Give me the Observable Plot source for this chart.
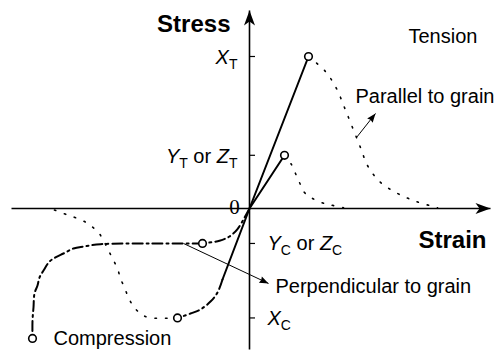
<!DOCTYPE html>
<html>
<head>
<meta charset="utf-8">
<script src="https://cdn.jsdelivr.net/npm/d3@7"></script>
<script src="https://cdn.jsdelivr.net/npm/@observablehq/plot@0.6"></script>
<style>
  html, body { margin: 0; padding: 0; background: #fff; overflow: hidden; }
</style>
</head>
<body>
<div id="chart"></div>
<script>
// Schematic stress–strain behaviour of wood (strain: arbitrary units, stress: % of X_T)

// Strength levels marked on the stress axis
const stressTicks = [100, 35, -23, -72];
const stressTickLabels = ["X_T", "Y_T or Z_T", "Y_C or Z_C", "X_C"];

// Tension parallel to grain: linear up to failure, then softening
const tensionParallelElastic = [[0, 0], [5.9, 100]];
const tensionParallelSoftening = [
  [5.9, 100], [7.6, 90.1], [8.7, 78.9], [9.5, 66.4], [10.3, 53.3], [11.1, 40.1],
  [11.8, 28.3], [13.0, 17.8], [14.8, 9.9], [16.7, 4.6], [18.8, 0.5]
];

// Tension perpendicular to grain
const tensionPerpElastic = [[0, 0], [3.5, 35]];
const tensionPerpSoftening = [
  [3.5, 35], [4.2, 28.9], [4.6, 23.0], [5.0, 17.1], [5.5, 10.5], [6.2, 7.0],
  [7.2, 3.9], [8.2, 2.2], [9.4, 0.5]
];

// Compression parallel to grain: elastic, nonlinear hardening, post-peak softening
const compParallelElastic = [[0, 0], [-2.7, -46.7]];
const compParallelNonlinear = [
  [-2.7, -46.7], [-3.2, -55.3], [-3.9, -61.2], [-4.9, -66.4], [-5.9, -69.1], [-7.2, -72]
];
const compParallelSoftening = [
  [-7.2, -72], [-10.1, -71.7], [-10.9, -69.1], [-11.6, -64.5], [-12.1, -58.6],
  [-12.5, -52.0], [-12.9, -46.1], [-13.2, -39.5], [-13.7, -32.9], [-14.1, -27.6],
  [-14.6, -21.1], [-15.1, -15.8], [-15.9, -11.2], [-16.7, -7.9], [-17.7, -5.3],
  [-18.6, -3.3], [-19.6, -0.7]
];

// Compression perpendicular to grain: yield, plateau, densification
const compPerpYield = [
  [0, 0], [-0.5, -6], [-1.2, -13.5], [-2.0, -18.4], [-3.0, -21.2], [-4.7, -23]
];
const compPerpPlateau = [
  [-4.7, -23], [-9.9, -23], [-14.9, -23.5], [-16.6, -25.0], [-17.6, -26.3],
  [-18.6, -29.6], [-19.4, -32.2], [-20.0, -34.9], [-20.6, -40.8], [-21.0, -45.4],
  [-21.2, -50.7], [-21.5, -55.9], [-21.6, -65.1], [-21.7, -73.7], [-21.7, -85.5]
];

// Failure / end points shown as open circles
const markedPoints = [
  tensionParallelElastic.at(-1),
  tensionPerpElastic.at(-1),
  compPerpYield.at(-1),
  compParallelNonlinear.at(-1),
  compPerpPlateau.at(-1)
];

const sans = "'Liberation Sans', Arial, Helvetica, sans-serif";
const dotted = "1.5,9";
const dashDot = "10,4,2,4";

const chart = Plot.plot({
  width: 496,
  height: 354,
  margin: 0,
  x: {domain: [-24.9, 24.7], axis: null},
  y: {domain: [-96.05, 136.84], axis: null},
  style: {fontFamily: sans, background: "white", color: "black"},
  marks: [
    // axes
    Plot.link([0], {x1: -23.8, x2: 24.1, y1: 0, y2: 0, stroke: "black", strokeWidth: 1.6, ariaDescription: "axis"}),
    Plot.link([0], {x1: 0, x2: 0, y1: -92.8, y2: 130.3, stroke: "black", strokeWidth: 1.6, ariaDescription: "axis"}),
    Plot.ruleY(stressTicks, {x1: 0, x2: 0.6, stroke: "black", strokeWidth: 1.2}),

    // tension
    Plot.line(tensionParallelElastic, {stroke: "black", strokeWidth: 2}),
    Plot.line(tensionParallelSoftening, {curve: "catmull-rom", stroke: "black", strokeWidth: 1.6, strokeDasharray: dotted}),
    Plot.line(tensionPerpElastic, {stroke: "black", strokeWidth: 2}),
    Plot.line(tensionPerpSoftening, {curve: "catmull-rom", stroke: "black", strokeWidth: 1.6, strokeDasharray: dotted}),

    // compression
    Plot.line(compParallelElastic, {stroke: "black", strokeWidth: 2}),
    Plot.line(compParallelNonlinear, {curve: "catmull-rom", stroke: "black", strokeWidth: 2, strokeDasharray: dashDot}),
    Plot.line(compParallelSoftening, {curve: "catmull-rom", stroke: "black", strokeWidth: 1.6, strokeDasharray: dotted}),
    Plot.line(compPerpYield, {curve: "catmull-rom", stroke: "black", strokeWidth: 2, strokeDasharray: dashDot}),
    Plot.line(compPerpPlateau, {curve: "catmull-rom", stroke: "black", strokeWidth: 2, strokeDasharray: dashDot}),

    // pointers to the curves
    Plot.link([0], {x1: 10.7, y1: 46.7, x2: 12.6, y2: 62.5, stroke: "black", strokeWidth: 1, ariaDescription: "pointer"}),
    Plot.link([0], {x1: -6.6, y1: -23, x2: 1.9, y2: -49.3, stroke: "black", strokeWidth: 1, ariaDescription: "pointer"}),

    Plot.dot(markedPoints, {r: 3.8, stroke: "black", strokeWidth: 1.6, fill: "white"}),

    // stress-axis labels
    Plot.text(stressTicks, {
      filter: (d) => d > 0, x: 0, y: (d) => d, text: (d, i) => stressTickLabels[i],
      dx: -12, dy: 8, textAnchor: "end", lineAnchor: "bottom", fontSize: 20, fill: "black"
    }),
    Plot.text(stressTicks, {
      filter: (d) => d < 0, x: 0, y: (d) => d, text: (d, i) => stressTickLabels[i],
      dx: 18, dy: 7, textAnchor: "start", lineAnchor: "bottom", fontSize: 20, fill: "black"
    }),
    Plot.text(["0"], {x: 0, y: 0, dx: -15, dy: 5, textAnchor: "middle", lineAnchor: "bottom",
      fontFamily: "'Liberation Serif', 'Times New Roman', serif", fontSize: 21, fill: "black"}),

    // axis titles and annotations
    Plot.text(["Stress"], {x: 0, y: 115.8, dx: -19, textAnchor: "end", lineAnchor: "bottom", fontSize: 24, fontWeight: "bold", fill: "black"}),
    Plot.text(["Strain"], {x: 23.7, y: -26.3, textAnchor: "end", lineAnchor: "bottom", fontSize: 24, fontWeight: "bold", fill: "black"}),
    Plot.text(["Tension"], {x: 15.9, y: 108.6, textAnchor: "start", lineAnchor: "bottom", fontSize: 20, fill: "black"}),
    Plot.text(["Parallel to grain"], {x: 10.6, y: 69.1, textAnchor: "start", lineAnchor: "bottom", fontSize: 20, fill: "black"}),
    Plot.text(["Perpendicular to grain"], {x: 2.6, y: -55.3, textAnchor: "start", lineAnchor: "bottom", fontSize: 20, fill: "black"}),
    Plot.text(["Compression"], {x: -19.6, y: -90.1, textAnchor: "start", lineAnchor: "bottom", fontSize: 20, fill: "black"})
  ]
});

document.getElementById("chart").appendChild(chart);

// Filled arrowheads for the axes and pointers
const svg = d3.select(chart);
const defs = svg.insert("defs", ":first-child");
function arrowHead(id, len, half, notch) {
  defs.append("marker")
    .attr("id", id)
    .attr("markerUnits", "userSpaceOnUse")
    .attr("orient", "auto")
    .attr("viewBox", `${-len - 1} ${-half - 1} ${len + 2} ${2 * half + 2}`)
    .attr("markerWidth", len + 2)
    .attr("markerHeight", 2 * half + 2)
    .attr("refX", 0)
    .attr("refY", 0)
    .append("path")
    .attr("d", `M0,0L${-len},${-half}L${-len + notch},0L${-len},${half}Z`)
    .attr("fill", "black");
}
arrowHead("axis-head", 15, 5.5, 4);
arrowHead("pointer-head", 9, 3.5, 1);
svg.selectAll('g[aria-description="axis"] path, g[aria-description="axis"] line').attr("marker-end", "url(#axis-head)");
svg.selectAll('g[aria-description="pointer"] path, g[aria-description="pointer"] line').attr("marker-end", "url(#pointer-head)");

// Strength symbols: italic letter with upright subscript, e.g. X_T
const NS = "http://www.w3.org/2000/svg";
const SUB = 5;
function setSymbolText(el, s) {
  el.textContent = "";
  el.setAttribute("style", "white-space: pre");
  let shifted = false;
  const add = (txt, attrs) => {
    const t = document.createElementNS(NS, "tspan");
    t.textContent = txt;
    for (const k in attrs) t.setAttribute(k, attrs[k]);
    el.appendChild(t);
  };
  s.split(" ").forEach((tok, i) => {
    const lead = i > 0 ? " " : "";
    const m = tok.match(/^(\w)_(\w)$/);
    if (m) {
      if (lead) add(lead, shifted ? {dy: -SUB} : {}), shifted = false;
      add(m[1], Object.assign({"font-style": "italic"}, shifted ? {dy: -SUB} : {}));
      add(m[2], {"font-size": "14px", dy: SUB});
      shifted = true;
    } else {
      add(lead + tok, shifted ? {dy: -SUB} : {});
      shifted = false;
    }
  });
}
svg.selectAll("text").each(function () {
  const s = this.textContent;
  if (s.includes("_")) setSymbolText(this, s);
});
</script>
</body>
</html>
